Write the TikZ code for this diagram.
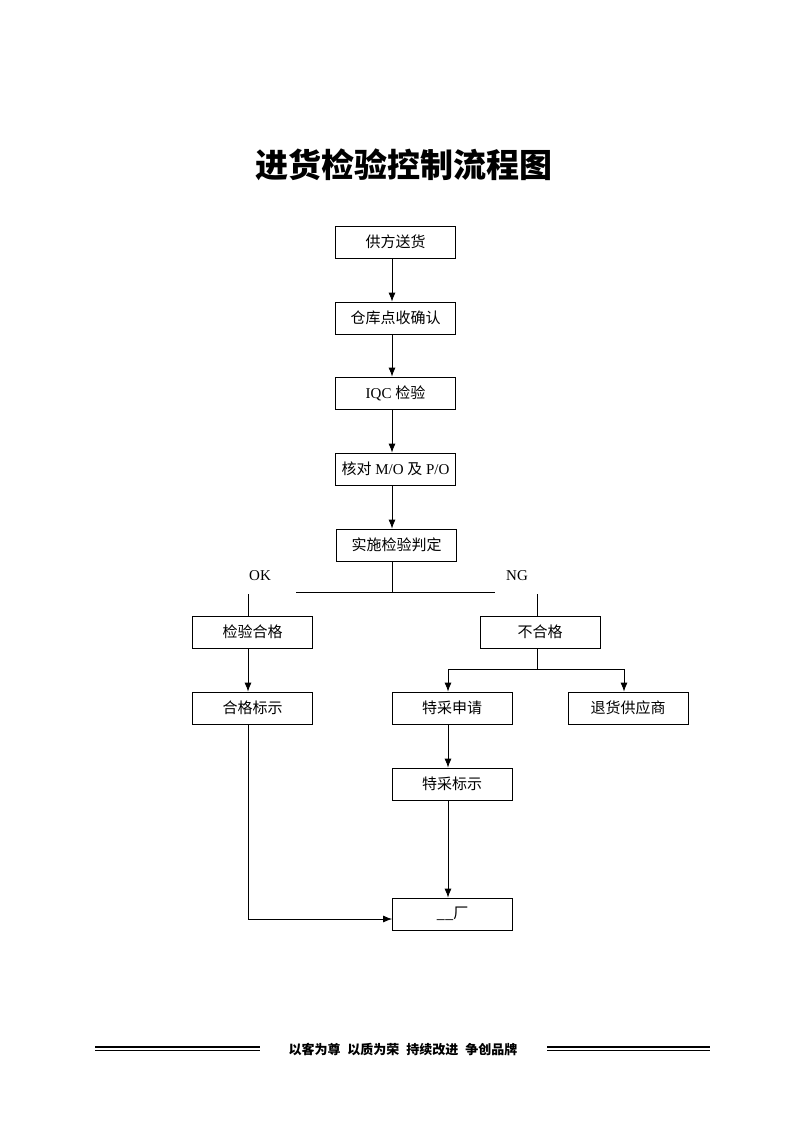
\documentclass[tikz,border=0pt]{standalone}
\usepackage{fontspec}
\setmainfont{Liberation Serif}
\newfontfamily\cjk{Noto Sans CJK SC}
\usetikzlibrary{arrows.meta}

\begin{document}
\begin{tikzpicture}[x=1pt,y=-1pt,
    box/.style={draw,line width=0.8pt,minimum width=120pt,minimum height=32pt,inner sep=0pt,font=\fontsize{15}{15}\selectfont},
    arr/.style={-{Latex[length=9pt,width=7pt]},line width=0.8pt},
    ln/.style={line width=0.8pt}]
    \useasboundingbox (0,0) rectangle (793,1122);
    % title
    \node (title) at (404,165) {\cjk\bfseries\fontsize{33}{33}\selectfont 进货检验控制流程图};

    % main column
    \coordinate (split) at (392,592);
    \node[box] (supply) at (395.5,242) {\cjk 供方送货};
    \node[box] (receive) at (395.5,318) {\cjk 仓库点收确认};
    \node[box] (iqc) at (395.5,393) {IQC {\cjk 检验}};
    \node[box] (check) at (395.5,469) {{\cjk 核对} M/O {\cjk 及} P/O};
    \node[box] (judge) at (396.5,545) {\cjk 实施检验判定};
    \draw[arr] (supply.south -| split) -- (receive.north -| split);
    \draw[arr] (receive.south -| split) -- (iqc.north -| split);
    \draw[arr] (iqc.south -| split) -- (check.north -| split);
    \draw[arr] (check.south -| split) -- (judge.north -| split);

    % OK / NG split
    \node[font=\fontsize{15}{15}\selectfont] (ok) at (260,576) {OK};
    \node[font=\fontsize{15}{15}\selectfont] (ng) at (517,576) {NG};
    \coordinate (splitL) at (296,592);
    \coordinate (splitR) at (495,592);
    \coordinate (okTop) at (248,594);
    \coordinate (ngTop) at (537,594);
    \draw[ln] (judge.south -| split) -- (split);
    \draw[ln] (splitL) -- (splitR);

    % OK branch
    \node[box] (pass) at (252.5,632) {\cjk 检验合格};
    \node[box] (passmark) at (252.5,708) {\cjk 合格标示};
    \draw[ln] (okTop) -- (okTop |- pass.north);
    \draw[arr] (pass.south -| okTop) -- (passmark.north -| okTop);

    % NG branch
    \node[box] (fail) at (540,632) {\cjk 不合格};
    \node[box] (special) at (452,708) {\cjk 特采申请};
    \node[box] (giveback) at (628,708) {\cjk 退货供应商};
    \node[box] (specmark) at (452,784) {\cjk 特采标示};
    \coordinate (fork) at (537,669);
    \coordinate (forkL) at (448,669);
    \coordinate (forkR) at (624,669);
    \draw[ln] (ngTop) -- (ngTop |- fail.north);
    \draw[ln] (fail.south -| fork) -- (fork);
    \draw[ln] (forkL) -- (forkR);
    \draw[arr] (forkL) -- (forkL |- special.north);
    \draw[arr] (forkR) -- (forkR |- giveback.north);
    \draw[arr] (special.south -| forkL) -- (specmark.north -| forkL);

    % end
    \node[box] (entry) at (452.5,914) {\cjk \_\_厂};
    \coordinate (entryIn) at (entry.west |- 0,919);
    \draw[arr] (specmark.south -| forkL) -- (entry.north -| forkL);
    \draw[arr] (passmark.south -| okTop) -- (okTop |- entryIn) -- (entryIn);

    % footer
    \draw[line width=1.2pt] (95,1047) -- (260,1047);
    \draw[line width=0.7pt] (95,1050.5) -- (260,1050.5);
    \draw[line width=1.2pt] (547,1047) -- (710,1047);
    \draw[line width=0.7pt] (547,1050.5) -- (710,1050.5);
    \node (motto) at (403,1049) {\cjk\bfseries\fontsize{13}{13}\selectfont 以客为尊\hspace{7pt}以质为荣\hspace{7pt}持续改进\hspace{7pt}争创品牌};
\end{tikzpicture}
\end{document}
